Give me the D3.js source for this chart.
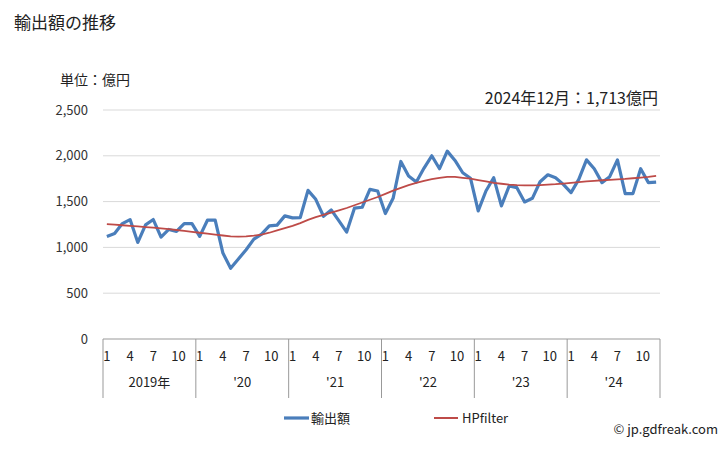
<!DOCTYPE html>
<html><head><meta charset="utf-8">
<script src="https://cdn.jsdelivr.net/npm/d3@7"></script>
<style>body{margin:0;background:#fff;}svg{display:block;font-family:"Noto Sans CJK JP","Noto Sans",sans-serif;}</style>
</head><body><svg id="c" width="728" height="450"></svg>
<script>
const years = ["2019年","'20","'21","'22","'23","'24"];
const monthTicks = [1,4,7,10];
const yTicks = [0,500,1000,1500,2000,2500];
const exports = [
 1120,1152,1260,1304,1054,1246,1304,1112,1196,1174,1260,1260,
 1120,1297,1297,938,772,873,975,1090,1145,1235,1243,1344,
 1322,1326,1623,1525,1340,1409,1290,1167,1428,1438,1634,1616,
 1370,1536,1938,1779,1714,1866,2000,1859,2051,1949,1815,1755,
 1398,1616,1761,1453,1670,1652,1496,1536,1717,1793,1761,1688,
 1598,1743,1956,1859,1707,1772,1956,1587,1587,1859,1707,1713];
const hp = [
 1254,1248,1242,1236,1229,1222,1215,1207,1199,1190,1180,1170,
 1160,1150,1140,1130,1120,1118,1120,1128,1140,1160,1185,1210,
 1235,1265,1300,1330,1355,1380,1405,1430,1460,1490,1520,1550,
 1585,1620,1650,1680,1705,1725,1745,1760,1770,1770,1760,1750,
 1735,1720,1705,1695,1685,1680,1678,1677,1680,1685,1690,1697,
 1705,1712,1720,1727,1733,1738,1743,1748,1755,1762,1770,1780];
const title = "輸出額の推移";
const unit = "単位：億円";
const latest = "2024年12月：1,713億円";

const svg = d3.select("#c");
const L = 103, R = 660, T = 110, B = 339;
const n = exports.length;
const x = d3.scaleBand().domain(d3.range(n)).range([L, R]);
const y = d3.scaleLinear().domain([0, 2500]).range([B, T]);
const cx = i => x(i) + x.bandwidth()/2;

svg.append("text").attr("x",14).attr("y",29).attr("font-size",17).attr("fill","#222").text(title);
svg.append("text").attr("x",60).attr("y",85).attr("font-size",14).attr("fill","#222").text(unit);
svg.append("text").attr("x",658).attr("y",104).attr("text-anchor","end").attr("font-size",16).attr("fill","#222").text(latest);

// grid
svg.append("g").selectAll("line").data(yTicks.filter(v=>v>0)).join("line")
  .attr("x1",L).attr("x2",R).attr("y1",d=>y(d)).attr("y2",d=>y(d))
  .attr("stroke","#d9d9d9").attr("stroke-width",1);
// y labels
const yAxis = d3.axisLeft(y).tickValues(yTicks).tickFormat(d3.format(",")).tickSize(0).tickPadding(15);
const ga = svg.append("g").attr("transform",`translate(${L},0)`).call(yAxis);
ga.select(".domain").remove();
ga.selectAll("text").attr("font-size",13).attr("fill","#333").attr("font-family",'"Noto Sans CJK JP","Noto Sans",sans-serif');

// x axis
svg.append("line").attr("x1",L).attr("x2",R).attr("y1",B).attr("y2",B).attr("stroke","#999").attr("stroke-width",1);
const yearX = d3.scaleLinear().domain([0, years.length]).range([L, R]);
svg.append("g").selectAll("line").data(d3.range(years.length+1)).join("line")
  .attr("x1",d=>yearX(d)).attr("x2",d=>yearX(d)).attr("y1",B).attr("y2",398)
  .attr("stroke","#999").attr("stroke-width",1);
const mt = [];
years.forEach((yy,yi)=>monthTicks.forEach(m=>mt.push({i:yi*12+m-1,m})));
svg.append("g").selectAll("text").data(mt).join("text")
  .attr("x",d=>cx(d.i)+(d.m>=10?2:0)).attr("y",361).attr("text-anchor","middle")
  .attr("font-size",13).attr("fill","#222").text(d=>d.m);
svg.append("g").selectAll("text").data(years).join("text")
  .attr("x",(d,i)=>(yearX(i)+yearX(i+1))/2).attr("y",387).attr("text-anchor","middle")
  .attr("font-size",13).attr("fill","#222").text(d=>d);

// lines
const line = d3.line().x((d,i)=>cx(i)).y(d=>y(d));
svg.append("path").datum(exports).attr("d",line).attr("fill","none")
  .attr("stroke","#4a7ebb").attr("stroke-width",3.2).attr("stroke-linejoin","round");
svg.append("path").datum(hp).attr("d",line).attr("fill","none")
  .attr("stroke","#be4b48").attr("stroke-width",1.8);

// legend
const lg = svg.append("g");
lg.append("line").attr("x1",284).attr("x2",309).attr("y1",418).attr("y2",418).attr("stroke","#4a7ebb").attr("stroke-width",3.2);
lg.append("text").attr("x",311).attr("y",423).attr("font-size",13).attr("fill","#222").text("輸出額");
lg.append("line").attr("x1",434).attr("x2",458).attr("y1",418).attr("y2",418).attr("stroke","#be4b48").attr("stroke-width",2);
lg.append("text").attr("x",462).attr("y",423).attr("font-size",13).attr("fill","#222").text("HPfilter");
svg.append("text").attr("x",718).attr("y",434).attr("text-anchor","end").attr("font-size",13).attr("fill","#222").text("© jp.gdfreak.com");
</script></body></html>
